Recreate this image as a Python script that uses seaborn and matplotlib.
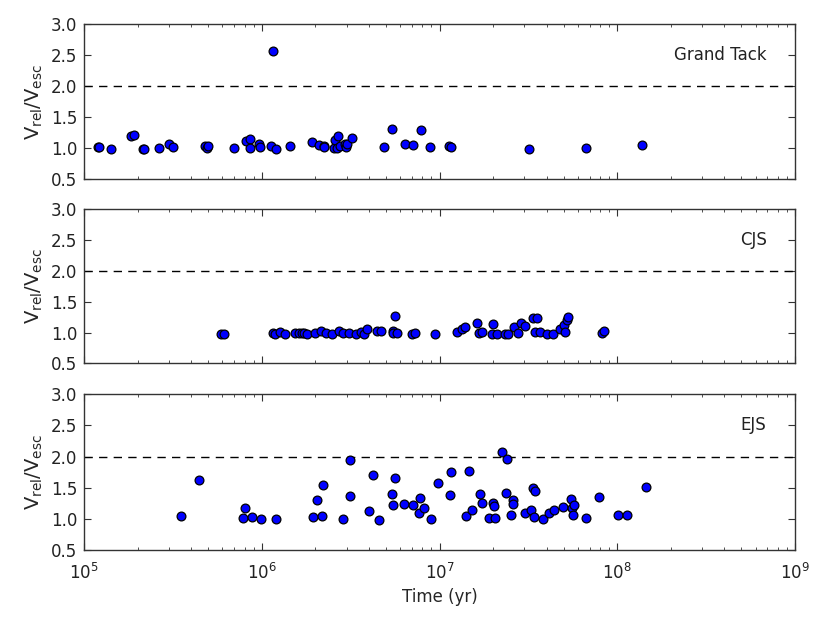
import numpy as np
import pandas as pd
import matplotlib
matplotlib.use("Agg")
import matplotlib.pyplot as plt
import seaborn as sns
from matplotlib.ticker import LogLocator, FixedLocator, FormatStrFormatter, NullFormatter

# ---------------- data ----------------
panel_names = ["Grand Tack", "CJS", "EJS"]

gt_time = [1.20e5, 1.22e5, 1.41e5, 1.84e5, 1.92e5, 2.14e5, 2.17e5, 2.64e5, 3.02e5, 3.16e5,
           4.81e5, 4.90e5, 5.00e5, 7.02e5, 8.15e5, 8.63e5, 8.55e5, 9.66e5, 9.82e5, 1.13e6,
           1.20e6, 1.16e6, 1.45e6, 1.92e6, 2.09e6, 2.23e6, 2.25e6, 2.56e6, 2.58e6, 2.69e6,
           2.66e6, 2.75e6, 2.93e6, 2.99e6, 3.01e6, 3.21e6, 4.86e6, 5.42e6, 6.37e6, 7.12e6,
           7.87e6, 8.81e6, 1.13e7, 1.16e7, 3.18e7, 6.65e7, 1.37e8]
gt_ratio = [1.02, 1.02, 0.98, 1.19, 1.21, 0.99, 0.99, 1.00, 1.07, 1.02,
            1.03, 1.00, 1.03, 1.00, 1.11, 1.15, 1.00, 1.06, 1.02, 1.04,
            0.98, 2.56, 1.03, 1.09, 1.05, 1.03, 1.02, 1.00, 1.13, 1.19,
            1.00, 1.03, 1.06, 1.02, 1.07, 1.16, 1.02, 1.30, 1.07, 1.05,
            1.29, 1.02, 1.03, 1.02, 0.98, 1.00, 1.05]

cjs_time = [5.87e5, 6.11e5, 1.15e6, 1.18e6, 1.27e6, 1.35e6, 1.53e6, 1.63e6, 1.68e6, 1.73e6,
            1.80e6, 2.00e6, 2.15e6, 2.30e6, 2.48e6, 2.73e6, 2.85e6, 3.11e6, 3.39e6, 3.60e6,
            3.78e6, 3.89e6, 4.43e6, 4.67e6, 5.62e6, 5.46e6, 5.50e6, 5.74e6, 7.03e6, 7.25e6,
            9.44e6, 1.26e7, 1.33e7, 1.39e7, 1.63e7, 1.67e7, 1.74e7, 2.01e7, 1.98e7, 2.10e7,
            2.34e7, 2.44e7, 2.64e7, 2.78e7, 2.88e7, 3.03e7, 3.37e7, 3.52e7, 3.45e7, 3.67e7,
            4.04e7, 4.37e7, 4.76e7, 5.01e7, 5.08e7, 5.20e7, 5.31e7, 8.17e7, 8.45e7]
cjs_ratio = [0.98, 0.98, 0.99, 0.98, 1.01, 0.98, 0.99, 0.99, 0.99, 0.99,
             0.98, 0.99, 1.03, 1.00, 0.98, 1.03, 1.00, 0.99, 0.98, 1.01,
             0.98, 1.05, 1.02, 1.03, 1.27, 1.03, 0.99, 1.00, 0.98, 1.00,
             0.98, 1.01, 1.05, 1.09, 1.16, 0.99, 1.01, 1.13, 0.98, 0.98,
             0.98, 0.98, 1.09, 0.99, 1.16, 1.10, 1.24, 1.24, 1.01, 1.01,
             0.98, 0.98, 1.06, 1.12, 1.01, 1.21, 1.25, 0.99, 1.02]

ejs_time = [3.50e5, 4.46e5, 7.82e5, 8.07e5, 8.81e5, 9.93e5, 1.20e6, 1.95e6, 2.17e6, 2.04e6,
            2.21e6, 2.85e6, 3.12e6, 3.12e6, 4.00e6, 4.25e6, 4.55e6, 5.42e6, 5.45e6, 5.60e6,
            6.34e6, 7.07e6, 7.70e6, 7.76e6, 8.21e6, 8.92e6, 9.77e6, 1.15e7, 1.16e7, 1.41e7,
            1.52e7, 1.47e7, 1.69e7, 1.73e7, 1.91e7, 2.06e7, 2.01e7, 2.02e7, 2.25e7, 2.41e7,
            2.38e7, 2.58e7, 2.60e7, 2.52e7, 3.04e7, 3.27e7, 3.37e7, 3.44e7, 3.40e7, 3.84e7,
            4.15e7, 4.41e7, 4.93e7, 5.52e7, 5.56e7, 5.73e7, 5.64e7, 6.64e7, 7.86e7, 1.01e8,
            1.14e8, 1.45e8]
ejs_ratio = [1.04, 1.63, 1.01, 1.18, 1.03, 0.99, 1.00, 1.03, 1.05, 1.31,
             1.55, 0.99, 1.94, 1.36, 1.12, 1.70, 0.98, 1.40, 1.23, 1.65,
             1.24, 1.22, 1.09, 1.33, 1.17, 0.99, 1.57, 1.38, 1.76, 1.05,
             1.15, 1.77, 1.40, 1.26, 1.01, 1.02, 1.25, 1.20, 2.07, 1.96,
             1.42, 1.31, 1.24, 1.07, 1.09, 1.15, 1.49, 1.45, 1.03, 1.00,
             1.09, 1.14, 1.19, 1.32, 1.17, 1.22, 1.06, 1.01, 1.35, 1.07,
             1.06, 1.51]

y_ticks = [0.5, 1.0, 1.5, 2.0, 2.5, 3.0]
threshold = 2.0

# ---------------- style ----------------
sns.set_style("ticks")
plt.rcParams["font.family"] = ["DejaVu Sans"]
plt.rcParams["mathtext.default"] = "regular"
plt.rcParams.update({
    "xtick.direction": "in", "ytick.direction": "in",
    "xtick.top": True, "ytick.right": True,
    "xtick.major.size": 5, "ytick.major.size": 5,
    "xtick.minor.size": 2.5, "ytick.minor.size": 2.5,
    "xtick.major.pad": 9, "ytick.major.pad": 5,
    "axes.edgecolor": "#333333", "axes.linewidth": 1.0,
    "xtick.color": "#333333", "ytick.color": "#333333",
    "xtick.labelcolor": "#222222", "ytick.labelcolor": "#222222",
    "xtick.labelsize": 12, "ytick.labelsize": 12,
})

fig = plt.figure(figsize=(8.3, 6.23), dpi=100)
left, width = 84 / 830, (795 - 84) / 830
tops = [24, 209.3, 394.3]
bottoms = [179, 363.3, 550]

datasets = [(gt_time, gt_ratio), (cjs_time, cjs_ratio), (ejs_time, ejs_ratio)]

for i, (name, (t, r)) in enumerate(zip(panel_names, datasets)):
    b = 1 - bottoms[i] / 623
    h = (bottoms[i] - tops[i]) / 623
    ax = fig.add_axes([left, b, width, h])
    df = pd.DataFrame({"time": t, "ratio": r})
    ax.axhline(threshold, color="black", linestyle=(0, (6, 4.5)), linewidth=1.0, zorder=1)
    sns.scatterplot(data=df, x="time", y="ratio", ax=ax, color="#0000ff",
                    edgecolor="black", linewidth=0.9, s=40, zorder=3, legend=False)
    ax.set_xscale("log")
    ax.set_xlim(1e5, 1e9)
    ax.set_ylim(0.5, 3.0)
    ax.yaxis.set_major_locator(FixedLocator(y_ticks))
    ax.yaxis.set_major_formatter(FormatStrFormatter("%.1f"))
    ax.xaxis.set_major_locator(LogLocator(base=10, numticks=10))
    ax.xaxis.set_minor_locator(LogLocator(base=10, subs=np.arange(2, 10), numticks=20))
    ax.xaxis.set_minor_formatter(NullFormatter())
    ax.set_ylabel(r"$\mathrm{V_{rel}/V_{esc}}$", fontsize=14, labelpad=4)
    ax.set_xlabel("")
    ax.text(0.96, 0.80, name, transform=ax.transAxes, ha="right", va="center",
            fontsize=12, color="#222222")
    for s in ["top", "right", "left", "bottom"]:
        ax.spines[s].set_visible(True)
    if i < 2:
        ax.tick_params(axis="x", which="both", labelbottom=False)
    else:
        ax.set_xlabel("Time (yr)", fontsize=12, labelpad=4)

fig.savefig("out.png", dpi=100)
